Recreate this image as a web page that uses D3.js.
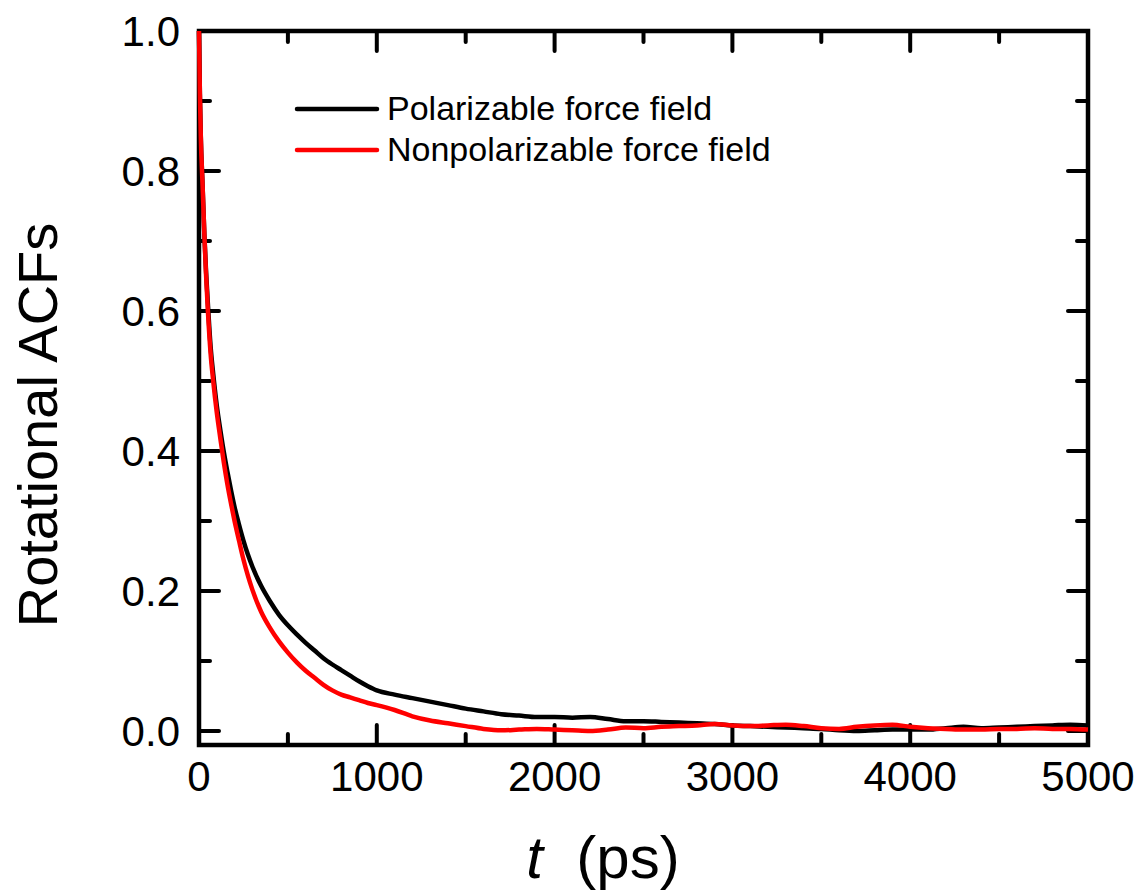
<!DOCTYPE html>
<html>
<head>
<meta charset="utf-8">
<script src="https://cdnjs.cloudflare.com/ajax/libs/d3/7.8.5/d3.min.js"></script>
<style>
  body { margin: 0; background: #fff; }
  svg { display: block; font-family: "Liberation Sans", Arial, sans-serif; }
</style>
</head>
<body>
<svg width="1139" height="894"></svg>
<script>
// time (ps)
var times = [0, 5, 10, 20, 30, 40, 50, 65, 80, 100, 120, 140, 160, 180, 200, 225, 250, 275, 300,
  350, 400, 450, 500, 550, 600, 650, 700, 750, 800, 850, 900, 950, 1000, 1100, 1200, 1300, 1400,
  1500, 1600, 1700, 1800, 1900, 2000, 2100, 2200, 2300, 2400, 2500, 2600, 2700, 2800, 2900, 3000,
  3100, 3200, 3300, 3400, 3500, 3600, 3700, 3800, 3900, 4000, 4100, 4200, 4300, 4400, 4500, 4600,
  4700, 4800, 4900, 5000];

var polarizable = [1.0, 0.91, 0.85, 0.78, 0.71, 0.655, 0.61, 0.55, 0.51, 0.465, 0.43, 0.398, 0.37, 0.344, 0.32, 0.295, 0.272, 0.252, 0.235,
  0.207, 0.185, 0.166, 0.151, 0.138, 0.126, 0.115, 0.104, 0.095, 0.087, 0.079, 0.071, 0.064, 0.058, 0.052, 0.047, 0.042, 0.037,
  0.032, 0.028, 0.024, 0.022, 0.020, 0.020, 0.019, 0.020, 0.017, 0.014, 0.014, 0.013, 0.012, 0.011, 0.010, 0.008,
  0.007, 0.006, 0.005, 0.004, 0.003, 0.001, 0.000, 0.001, 0.002, 0.002, 0.002, 0.004, 0.006, 0.004, 0.005, 0.006,
  0.007, 0.008, 0.009, 0.008];

var nonpolarizable = [1.0, 0.91, 0.85, 0.78, 0.71, 0.65, 0.60, 0.54, 0.50, 0.455, 0.418, 0.383, 0.352, 0.325, 0.30, 0.272, 0.245, 0.222, 0.202,
  0.17, 0.147, 0.128, 0.112, 0.098, 0.086, 0.076, 0.066, 0.058, 0.052, 0.048, 0.044, 0.040, 0.037, 0.030, 0.021, 0.015, 0.011,
  0.007, 0.003, 0.001, 0.002, 0.003, 0.002, 0.001, 0.000, 0.002, 0.005, 0.004, 0.006, 0.007, 0.008, 0.010, 0.008,
  0.007, 0.008, 0.009, 0.007, 0.004, 0.003, 0.006, 0.008, 0.009, 0.006, 0.004, 0.003, 0.002, 0.002, 0.003, 0.003,
  0.004, 0.003, 0.003, 0.002];

var seriesNames = ["Polarizable force field", "Nonpolarizable force field"];
var seriesColors = ["#000000", "#ff0000"];
var xTicks = [0, 1000, 2000, 3000, 4000, 5000];
var yTicks = [0.0, 0.2, 0.4, 0.6, 0.8, 1.0];

draw();

function draw() {
  var svg = d3.select("svg"),
      mLeft = 199, mRight = 1088, mTop = 31, mBottom = 745;

  var x = d3.scaleLinear().domain([0, 5000]).range([mLeft, mRight]);
  var y = d3.scaleLinear().domain([-0.02, 1.0]).range([mBottom, mTop]);

  // frame
  svg.append("rect")
      .attr("x", mLeft).attr("y", mTop)
      .attr("width", mRight - mLeft).attr("height", mBottom - mTop)
      .attr("fill", "none").attr("stroke", "#000").attr("stroke-width", 4.5);

  // ticks (inward, all four sides)
  var ticks = svg.append("g");
  var xMinor = d3.range(500, 5000, 1000), yMinor = [0.1, 0.3, 0.5, 0.7, 0.9];
  function tickLines(vals, len, axis) {
    vals.forEach(function(v) {
      if (axis === "x") {
        ticks.append("line").attr("x1", x(v)).attr("x2", x(v)).attr("y1", mBottom).attr("y2", mBottom - len);
        ticks.append("line").attr("x1", x(v)).attr("x2", x(v)).attr("y1", mTop).attr("y2", mTop + len);
      } else {
        ticks.append("line").attr("y1", y(v)).attr("y2", y(v)).attr("x1", mLeft).attr("x2", mLeft + len);
        ticks.append("line").attr("y1", y(v)).attr("y2", y(v)).attr("x1", mRight).attr("x2", mRight - len);
      }
    });
  }
  tickLines(xTicks.slice(1, -1), 20, "x");
  tickLines(xMinor, 11, "x");
  tickLines(yTicks.slice(0, -1), 20, "y");
  tickLines(yMinor, 11, "y");
  ticks.selectAll("line").attr("stroke", "#000").attr("stroke-width", 4).attr("stroke-linecap", "round");

  // tick labels
  svg.selectAll(".xl").data(xTicks).enter().append("text")
      .attr("x", function(d) { return x(d); }).attr("y", 791)
      .attr("text-anchor", "middle").attr("font-size", 42)
      .text(function(d) { return d; });

  svg.selectAll(".yl").data(yTicks).enter().append("text")
      .attr("x", 180).attr("y", function(d) { return y(d) + 15; })
      .attr("text-anchor", "end").attr("font-size", 42)
      .text(function(d) { return d.toFixed(1); });

  // axis titles
  var xt = svg.append("text").attr("x", 603).attr("y", 878)
      .attr("text-anchor", "middle").attr("font-size", 60);
  xt.append("tspan").attr("font-style", "italic").text("t");
  xt.append("tspan").text("\u00a0\u00a0(ps)");

  svg.append("text")
      .attr("transform", "translate(57,425) rotate(-90)")
      .attr("text-anchor", "middle").attr("font-size", 56)
      .text("Rotational ACFs");

  // curves
  var line = d3.line()
      .x(function(d, i) { return x(times[i]); })
      .y(function(d) { return y(d); })
      .curve(d3.curveMonotoneX);

  [polarizable, nonpolarizable].forEach(function(s, i) {
    svg.append("path")
        .attr("d", line(s))
        .attr("fill", "none")
        .attr("stroke", seriesColors[i])
        .attr("stroke-width", 4.5)
        .attr("stroke-linejoin", "round");
  });

  // legend
  seriesNames.forEach(function(name, i) {
    var ly = 109 + i * 41;
    svg.append("line")
        .attr("x1", 297).attr("x2", 377).attr("y1", ly).attr("y2", ly)
        .attr("stroke", seriesColors[i]).attr("stroke-width", 4.5).attr("stroke-linecap", "round");
    svg.append("text")
        .attr("x", 387).attr("y", ly + 11)
        .attr("font-size", 34)
        .text(name);
  });
}
</script>
</body>
</html>
